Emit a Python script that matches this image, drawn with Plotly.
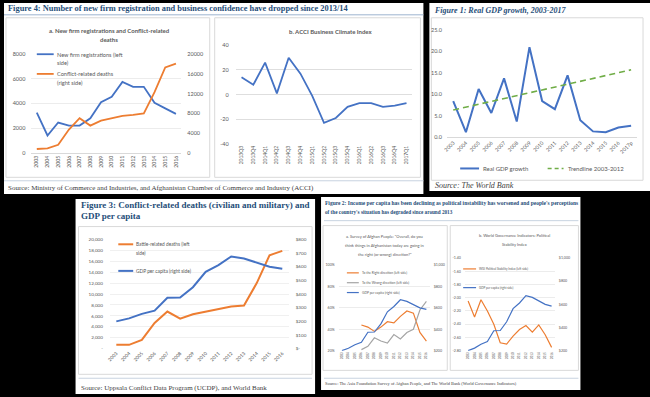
import plotly.graph_objects as go

W, H = 650, 397
def X(p): return p / W
def Y(p): return 1 - p / H

# ---------------- data ----------------
years_14 = ["2003", "2004", "2005", "2006", "2007", "2008", "2009", "2010",
            "2011", "2012", "2013", "2014", "2015", "2016"]
firm_reg = [3250, 1400, 2450, 2200, 2200, 2800, 4100, 4550, 5750, 5350, 5350, 4050, 3600, 3150]
conflict_deaths = [750, 900, 1600, 4700, 7000, 5500, 6500, 7000, 7500, 7700, 8000, 12300, 17300, 18100]

acci_quarters = ["2013Q3", "2013Q4", "2014Q1", "2014Q2", "2014Q3", "2014Q4", "2015Q1", "2015Q2",
                 "2015Q3", "2015Q4", "2016Q1", "2016Q2", "2016Q3", "2016Q4", "2017Q1"]
acci_index = [14, 8, 26, 1, 30, 17, -1, -23, -19, -10, -7, -7, -10, -9, -7]

gdp_years = ["2003", "2004", "2005", "2006", "2007", "2008", "2009", "2010", "2011",
             "2012", "2013", "2014", "2015", "2016", "2017p"]
gdp_growth = [8.4, 1.1, 11.2, 5.6, 13.7, 3.6, 21.0, 8.4, 6.5, 14.4, 3.9, 1.3, 1.1, 2.2, 2.6]
trend_years = ["2003", "2017p"]
trend_values = [6.3, 15.7]

battle_deaths = [700, 700, 1600, 4700, 6800, 5500, 6300, 6800, 7300, 7700, 7900, 12000, 17100, 17900]
gdp_per_capita = [200, 222, 255, 278, 372, 374, 450, 563, 612, 675, 660, 632, 600, 585]

right_direction = [None, None, None, 44, 42, 38, 42, 47, 46, 52, 57, 55, 37, 29]
wrong_direction = [None, None, None, 21, 24, 32, 29, 27, 35, 31, 37, 40, 58, 66]
wgi_stability = [-2.05, -2.29, -2.03, -2.20, -2.40, -2.68, -2.70, -2.58, -2.48, -2.42,
                 -2.52, -2.41, -2.56, -2.75]

# ---------------- style ----------------
BLUE = "#4472C4"; ORANGE = "#ED7D31"; GREY = "#A5A5A5"; GREEN = "#70AD47"
TXT = "#595959"; FRAME = "#d9d9d9"; TBLUE = "#1F4E79"
SANS = "Lato, Liberation Sans, sans-serif"
SERIF = "Liberation Serif, DejaVu Serif, serif"

fig = go.Figure()

def line(x, y, xa, ya, color, width, name, dash=None):
    fig.add_trace(go.Scatter(x=x, y=y, xaxis=xa, yaxis=ya, mode="lines", name=name,
                             line=dict(color=color, width=width, dash=dash),
                             showlegend=False, connectgaps=False))

line(years_14, firm_reg, "x", "y", BLUE, 1.8, "New firm registrations (left side)")
line(years_14, conflict_deaths, "x", "y2", ORANGE, 1.8, "Conflict-related deaths (right side)")
line(acci_quarters, acci_index, "x2", "y3", BLUE, 1.8, "ACCI Business Climate Index")
line(gdp_years, gdp_growth, "x3", "y4", BLUE, 2.0, "Real GDP growth")
line(trend_years, trend_values, "x3", "y4", GREEN, 1.6, "Trendline 2003-2012", dash="6px,4px")
line(years_14, battle_deaths, "x4", "y5", ORANGE, 2.0, "Battle-related deaths (left side)")
line(years_14, gdp_per_capita, "x4", "y6", BLUE, 2.0, "GDP per capita (right side)")
line(years_14, right_direction, "x5", "y7", ORANGE, 1.2, "To the Right direction (left side)")
line(years_14, wrong_direction, "x5", "y7", GREY, 1.2, "To the Wrong direction (left side)")
line(years_14, gdp_per_capita, "x5", "y8", BLUE, 1.2, "GDP per capita (right side)")
line(years_14, wgi_stability, "x6", "y9", ORANGE, 1.2, "WGI Political Stability Index (left side)")
line(years_14, gdp_per_capita, "x6", "y10", BLUE, 1.2, "GDP per capita (right side)")

def xcat(x0, x1, n, anchor, angle, size, line_on=True):
    s = (x1 - x0) / (n - 1)
    return dict(domain=[X(x0 - s / 2), X(x1 + s / 2)], anchor=anchor, type="category",
                range=[-0.5, n - 0.5], tickangle=angle, showgrid=False, zeroline=False,
                showline=line_on, linecolor=FRAME, linewidth=1, ticks="",
                tickfont=dict(family=SANS, size=size, color=TXT), fixedrange=True)

def yax(top, bot, rng, vals, texts, anchor, size, grid=None, side="left", overlay=None, standoff=2):
    d = dict(range=rng, tickvals=vals, ticktext=texts, anchor=anchor, side=side,
             showgrid=grid is not None, gridcolor=grid or FRAME, gridwidth=1,
             zeroline=False, showline=False, ticks="", fixedrange=True,
             ticklabelstandoff=standoff,
             tickfont=dict(family=SANS, size=size, color=TXT))
    if overlay:
        d["overlaying"] = overlay
    else:
        d["domain"] = [Y(bot), Y(top)]
    return d

layout = dict(
    width=W, height=H, autosize=False, margin=dict(l=0, r=0, t=0, b=0),
    paper_bgcolor="#000000", plot_bgcolor="rgba(0,0,0,0)", showlegend=False,
    xaxis=xcat(33, 173, 14, "y", -90, 5.2),
    yaxis=yax(52, 152, [0, 8000], [0, 2000, 4000, 6000, 8000],
              ["0", "2000", "4000", "6000", "8000"], "x", 5.5, grid="#ececec", standoff=5),
    yaxis2=yax(52, 152, [0, 20000], [0, 4000, 8000, 12000, 16000, 20000],
               ["0", "4000", "8000", "12000", "16000", "20000"], "x", 5.5, side="right", overlay="y", standoff=5),
    xaxis2=xcat(239, 405, 15, "y3", -90, 5.0, line_on=False),
    yaxis3=yax(43, 143, [-40, 40], [-40, -20, 0, 20, 40], ["-40", "-20", "0", "20", "40"],
               "x2", 5.5, grid="#dedede", standoff=6),
    xaxis3=xcat(452, 631, 15, "y4", -45, 5.2),
    yaxis4=yax(27.5, 136, [0, 25], [0, 5, 10, 15, 20, 25],
               ["0.0", "5.0", "10.0", "15.0", "20.0", "25.0"], "x3", 5.5, standoff=4),
    xaxis4=xcat(113, 280, 14, "y5", -45, 4.8, line_on=False),
    yaxis5=yax(240, 351, [0, 20000], list(range(0, 20001, 2000)),
               ["-", "2,000", "4,000", "6,000", "8,000", "10,000", "12,000", "14,000", "16,000", "18,000", "20,000"],
               "x4", 4.6, grid="#f0f0f0", standoff=6),
    yaxis6=yax(240, 351, [0, 800], list(range(0, 801, 100)),
               ["$-", "$100", "$200", "$300", "$400", "$500", "$600", "$700", "$800"],
               "x4", 4.6, side="right", overlay="y5", standoff=6),
    xaxis5=xcat(340, 425, 14, "y7", -90, 3.0, line_on=False),
    yaxis7=yax(266, 353, [20, 100], [20, 40, 60, 80, 100], ["20%", "40%", "60%", "80%", "100%"],
               "x5", 3.6, grid="#ececec", standoff=3),
    yaxis8=yax(266, 353, [200, 1000], [200, 400, 600, 800, 1000],
               ["$200", "$400", "$600", "$800", "$1,000"], "x5", 3.6, side="right", overlay="y7", standoff=3),
    xaxis6=xcat(467, 551, 14, "y9", -90, 3.0, line_on=False),
    yaxis9=yax(259, 353, [-2.8, -1.4], [-2.8, -2.6, -2.4, -2.2, -2.0, -1.8, -1.6, -1.4],
               ["-2.80", "-2.60", "-2.40", "-2.20", "-2.00", "-1.80", "-1.60", "-1.40"],
               "x6", 3.6, grid="#ececec", standoff=3),
    yaxis10=yax(259, 353, [200, 1000], [200, 400, 600, 800, 1000],
                ["$200", "$400", "$600", "$800", "$1,000"], "x6", 3.6, side="right", overlay="y9", standoff=3),
)

shapes = []
def rect(x0, y0, x1, y1, fill=None, color=None, width=1, layer="below"):
    shapes.append(dict(type="rect", xref="paper", yref="paper", x0=X(x0), x1=X(x1), y0=Y(y1), y1=Y(y0),
                       fillcolor=fill or "rgba(0,0,0,0)", line=dict(color=color or "rgba(0,0,0,0)", width=width),
                       layer=layer))
def hline(x0, x1, y, color, width=1, dash=None, layer="below"):
    shapes.append(dict(type="line", xref="paper", yref="paper", x0=X(x0), x1=X(x1), y0=Y(y), y1=Y(y),
                       line=dict(color=color, width=width, dash=dash), layer=layer))

# panels
rect(0, 0, 422, 194, fill="white")
rect(428, 0, 650, 191, fill="white")
rect(72, 199, 313, 397, fill="white")
rect(319, 197, 580, 393, fill="white")
# chart frames
rect(2, 15, 207, 177, color=FRAME)
rect(212, 15, 419, 177, color=FRAME)
rect(430, 15, 643, 180, color=FRAME)
rect(75, 227, 310, 377, color=FRAME)
rect(321, 226, 446, 373, color=FRAME)
rect(449, 226, 578, 373, color=FRAME)
# title underlines / separators
hline(0, 422, 12, "#9db3cf", 1)
hline(0, 422, 180.5, "#c8d3e0", 1)
hline(322, 578, 221, "#c8d3e0", 1)
hline(322, 578, 381, "#c8d3e0", 1)
hline(75, 310, 381, "#c8d3e0", 1)

# legend keys
def key(x0, x1, y, color, width=1.8, dash=None):
    hline(x0, x1, y, color, width, dash, layer="above")
key(33, 50, 52, BLUE)
key(33, 50, 72, ORANGE)
key(459, 478, 168, BLUE, 2.0)
key(547, 563, 168, GREEN, 1.6, "4px,3px")
key(115, 130, 245, ORANGE, 2.0)
key(115, 130, 272, BLUE, 2.0)
key(345, 357, 274, ORANGE, 1.2)
key(345, 357, 284, GREY, 1.2)
key(345, 357, 294, BLUE, 1.2)
key(462, 475, 270, ORANGE, 1.2)
key(462, 475, 289, BLUE, 1.2)

ann = []
def txt(x, y, s, size, color=TXT, family=SANS, xanchor="left", yanchor="middle", bold=False, italic=False):
    if bold:
        s = "<b>" + s + "</b>"
    if italic:
        s = "<i>" + s + "</i>"
    ann.append(dict(x=X(x), y=Y(y), xref="paper", yref="paper", text=s, showarrow=False,
                    xanchor=xanchor, yanchor=yanchor, align="left", borderpad=0,
                    font=dict(family=family, size=size, color=color)))

# figure titles
txt(3, 5.5, "Figure 4: Number of new firm registration and business confidence have dropped since 2013/14",
    8.4, TBLUE, SERIF, bold=True)
txt(432, 7.5, "Figure 1: Real GDP growth, 2003-2017", 8.0, TBLUE, SERIF, bold=True, italic=True)
txt(76, 205, "Figure 3: Conflict-related deaths (civilian and military) and", 9, TBLUE, SERIF, bold=True)
txt(76, 216, "GDP per capita", 9, TBLUE, SERIF, bold=True)
txt(322, 203, "Figure 2: Income per capita has been declining as political instability has worsened and people's perceptions",
    5.5, TBLUE, SERIF, bold=True)
txt(322, 212.5, "of the country's situation has degraded since around 2013", 5.2, TBLUE, SERIF, bold=True)

# sources
txt(3, 187.5, "Source: Ministry of Commerce and Industries, and Afghanistan Chamber of Commerce and Industry (ACCI)",
    7, "#404040", SERIF)
txt(433, 185.5, "Source: The World Bank", 8, "#404040", SERIF, italic=True)
txt(76, 391, "Source: Uppsala Conflict Data Program (UCDP), and World Bank", 7, "#404040", SERIF)
txt(322, 387, "Source: The Asia Foundation Survey of Afghan People, and The World Bank (World Governance Indicators)",
    4.4, "#404040", SERIF)

# chart titles
txt(106, 28, "a. New firm registrations and Conflict-related", 6, TXT, SANS, xanchor="center", bold=True)
txt(106, 37, "deaths", 6, TXT, SANS, xanchor="center", bold=True)
txt(329, 29, "b. ACCI Business Climate Index", 6, TXT, SANS, xanchor="center", bold=True)
txt(383, 237, "a. Survey of Afghan People: \"Overall, do you", 4, TXT, SANS, xanchor="center")
txt(383, 246, "think things in Afghanistan today are going in", 4, TXT, SANS, xanchor="center")
txt(383, 255, "the right (or wrong) direction?\"", 4, TXT, SANS, xanchor="center")
txt(514, 236, "b. World Governance Indicators: Political", 4, TXT, SANS, xanchor="center")
txt(514, 245, "Stability Index", 4, TXT, SANS, xanchor="center")

# legend texts
txt(52, 52, "New firm registrations (left", 5.6)
txt(52, 60.5, "side)", 5.6)
txt(52, 72, "Conflict-related deaths", 5.6)
txt(52, 81, "(right side)", 5.6)
txt(481, 168, "Real GDP growth", 6)
txt(566, 168, "Trendline 2003-2012", 6)
txt(132, 245, "Battle-related deaths (left", 4.8)
txt(132, 253.5, "side)", 4.8)
txt(132, 272, "GDP per capita (right side)", 4.8)
txt(359, 274, "To the Right direction (left side)", 3.3)
txt(359, 284, "To the Wrong direction (left side)", 3.3)
txt(359, 294, "GDP per capita (right side)", 3.3)
txt(477, 270, "WGI Political Stability Index (left side)", 3.0)
txt(477, 289, "GDP per capita (right side)", 3.0)

layout["shapes"] = shapes
layout["annotations"] = ann
fig.update_layout(**layout)
fig.write_html("out.html")
